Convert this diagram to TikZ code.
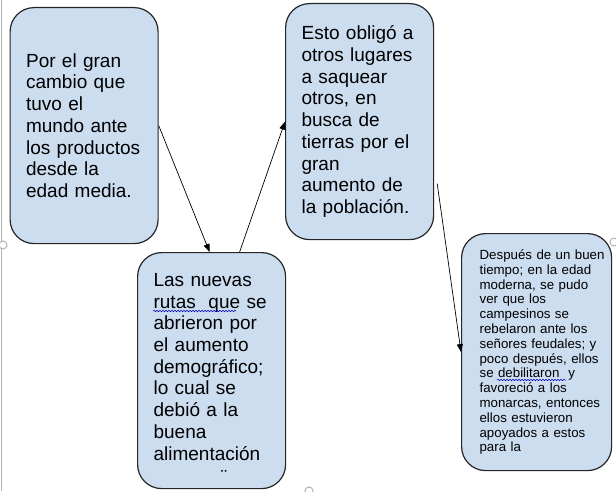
\documentclass[tikz,border=0pt]{standalone}
\usepackage{fontspec}
\setmainfont{Liberation Sans}
\usetikzlibrary{arrows.meta,decorations.pathmorphing}
\definecolor{cajaazul}{RGB}{204,221,240}
\tikzset{
  caja/.style={draw=black!85, line width=1.2pt, fill=cajaazul, rounded corners=24pt,
    anchor=north west, inner xsep=16pt, inner ysep=0pt, text width=116pt, align=left,
    minimum height=236pt, font=\fontsize{19}{21.7}\selectfont},
  cajachica/.style={caja, inner xsep=5pt, text width=140pt, minimum height=237pt,
    font=\fontsize{13.3}{14.8}\selectfont},
  flecha/.style={-{Triangle[length=8pt,width=6pt]}, line width=0.7pt},
  ondulada/.style={draw=blue!75!black, line width=0.5pt, decorate,
    decoration={snake, segment length=3pt, amplitude=0.7pt}},
  marco/.style={draw=gray!60, line width=1pt}
}
\begin{document}
\begin{tikzpicture}[x=1pt,y=-1pt]
  \fill[white] (0,0) rectangle (616,492);
  \useasboundingbox (0,0) rectangle (616,492);
  % marco de la diapositiva
  \draw[marco] (1.5,0) -- (1.5,491);
  \draw[marco,fill=white] (3,245) circle (4pt);
  \draw[marco,fill=white] (614,242) circle (4pt);
  \draw[marco,fill=white] (309,491) circle (4pt);
  % cajas
  \node[caja] (b1) at (9.5,7) {Por el gran\\ cambio que\\ tuvo el\\ mundo ante\\
    los productos\\ desde la\\ edad media.};
  \node[caja, text height=13.6pt, text depth=182pt] (b2) at (137,252) {Las nuevas\\
    rutas\ \ que se\\ abrieron por\\ el aumento\\ demográfico;\\ lo cual se\\
    debió a la\\ buena\\ alimentación};
  \node[font=\fontsize{19}{21.7}\selectfont, inner sep=0pt] (b2dots) at (224,477) {¨};
  \node[caja] (b3) at (285,3) {Esto obligó a\\ otros lugares\\ a saquear\\ otros, en\\
    busca de\\ tierras por el\\ gran\\ aumento de\\ la población.};
  \node[cajachica] (b4) at (461,233) {\leftskip=13pt Después de un buen\\
    tiempo; en la edad\\ moderna, se pudo\\ ver que los\\ campesinos se\\
    rebelaron ante los\\ señores feudales; y\\ poco después, ellos\\
    se debilitaron\ \ y\\ favoreció a los\\ monarcas, entonces\\ ellos estuvieron\\
    apoyados a estos\\ para la\par};
  % subrayado del corrector
  \draw[ondulada] (153,311) -- (236,311);
  \draw[ondulada] (497,380) -- (566,380);
  % flechas
  \draw[flecha] (b1.east) -- ([xshift=-2pt]b2.north);
  \draw[flecha] ([xshift=28pt]b2.north) -- (b3.west);
  \draw[flecha] ([xshift=3pt,yshift=-62pt]b3.east) -- (b4.west);
\end{tikzpicture}
\end{document}
